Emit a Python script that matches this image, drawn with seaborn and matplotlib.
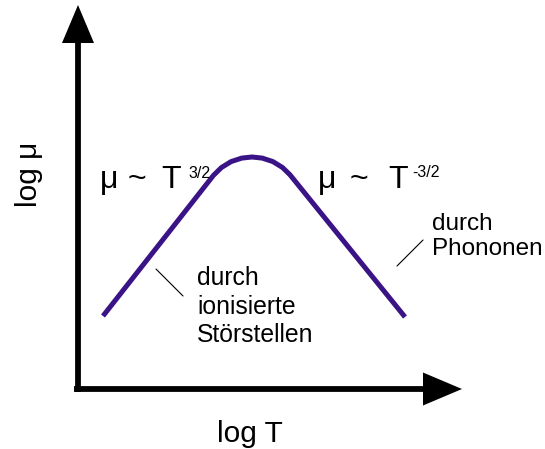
import matplotlib
matplotlib.use("Agg")
import matplotlib.pyplot as plt
from matplotlib.patches import FancyArrow
import seaborn as sns
import pandas as pd

# Schematic mobility curve: log mu versus log T (arbitrary units)
log_T = [0.25, 1.355, 1.435, 1.531, 1.637, 1.74, 1.843, 1.949, 2.045, 2.119, 3.27]
log_mu = [0.73, 2.137, 2.215, 2.274, 2.309, 2.32, 2.309, 2.274, 2.215, 2.143, 0.72]

x_label = "log T"
y_label = "log μ"
left_exp = "3/2"
right_exp = "-3/2"
left_note = ["durch", "ionisierte", "Störstellen"]
right_note = ["durch", "Phononen"]

sns.set_theme(style="white")
plt.rcParams["font.family"] = ["Liberation Sans", "DejaVu Sans"]
plt.rcParams["text.color"] = "black"

fig = plt.figure(figsize=(5.45, 4.49), dpi=100)
ax = fig.add_axes([0, 0, 1, 1])
ax.set_xlim(-0.78, 4.67)
ax.set_ylim(-0.60, 3.89)
ax.axis("off")

df = pd.DataFrame({"log_T": log_T, "log_mu": log_mu})
sns.lineplot(data=df, x="log_T", y="log_mu", sort=False, ax=ax,
             color="#3a1386", linewidth=3.6, solid_capstyle="butt",
             solid_joinstyle="round")

# axes with arrow heads
ax.add_patch(FancyArrow(0, -0.03, 0, 3.87, width=0.058, head_width=0.32,
                        head_length=0.38, length_includes_head=True,
                        color="black", lw=0))
ax.add_patch(FancyArrow(-0.04, 0, 3.88, 0, width=0.058, head_width=0.33,
                        head_length=0.39, length_includes_head=True,
                        color="black", lw=0))

ax.text(1.72, -0.53, x_label, ha="center", va="baseline", fontsize=21.5)
ax.text(-0.49, 2.15, y_label, ha="center", va="center", rotation=90,
        fontsize=21.5)

# power-law annotations
fs = 23
ax.text(0.22, 2.01, "μ", ha="left", va="baseline", fontsize=fs)
ax.text(0.50, 2.01, "~", ha="left", va="baseline", fontsize=fs)
ax.text(0.83, 2.01, "T", ha="left", va="baseline", fontsize=fs)
ax.text(1.10, 2.11, left_exp, ha="left", va="baseline", fontsize=11.5)

ax.text(2.40, 2.01, "μ", ha="left", va="baseline", fontsize=fs)
ax.text(2.72, 2.01, "~", ha="left", va="baseline", fontsize=fs)
ax.text(3.10, 2.01, "T", ha="left", va="baseline", fontsize=fs)
ax.text(3.34, 2.12, right_exp, ha="left", va="baseline", fontsize=11.5)

# scattering mechanism notes with leader lines
for line, yb in zip(left_note, [1.04, 0.755, 0.47]):
    ax.text(1.19, yb, line, ha="left", va="baseline", fontsize=17.8)
for line, yb in zip(right_note, [1.59, 1.34]):
    ax.text(3.54, yb, line, ha="left", va="baseline", fontsize=17.5)

ax.plot([0.78, 1.05], [1.20, 0.93], color="black", lw=0.8)
ax.plot([3.19, 3.45], [1.23, 1.49], color="black", lw=0.8)

fig.savefig("out.png", dpi=100)
